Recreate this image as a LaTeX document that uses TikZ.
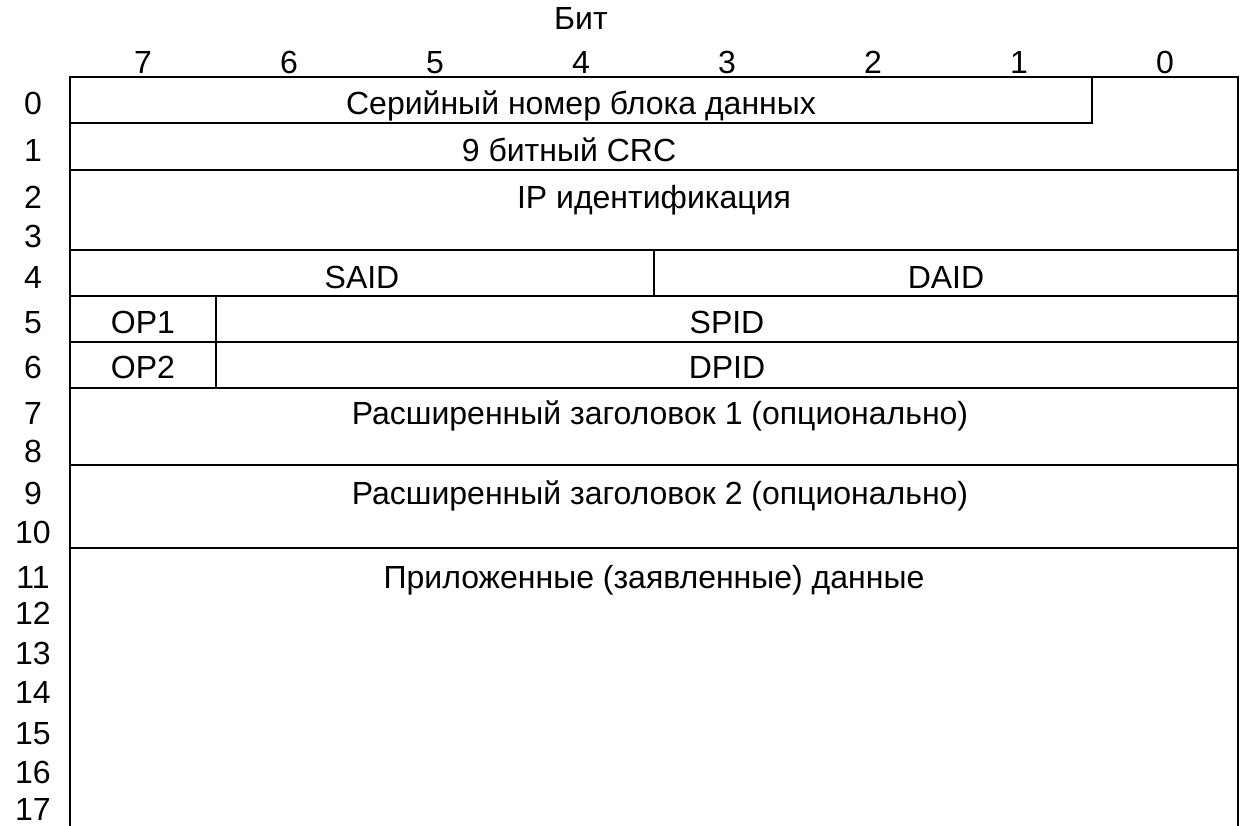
\documentclass[tikz,border=0pt]{standalone}
\usepackage{fontspec}
\setmainfont{Liberation Sans}
\usetikzlibrary{positioning}

\begin{document}
\begin{tikzpicture}[x=1pt, y=-1pt, font=\fontsize{32}{38}\selectfont]
  \tikzstyle{txt}=[inner sep=0pt, anchor=base]
  \tikzstyle{grid}=[line width=2.8pt]

  \useasboundingbox (0,0) rectangle (1240,825);

  % bit header
  \node[txt] (bit_title) at (581,29) {Бит};
  \node[txt] (bit_7) at (143,73) {7};
  \node[txt] (bit_6) at (289,73) {6};
  \node[txt] (bit_5) at (435,73) {5};
  \node[txt] (bit_4) at (581,73) {4};
  \node[txt] (bit_3) at (727,73) {3};
  \node[txt] (bit_2) at (873,73) {2};
  \node[txt] (bit_1) at (1019,73) {1};
  \node[txt] (bit_0) at (1165,73) {0};

  % byte numbers
  \node[txt] (row_0) at (33,114) {0};
  \node[txt] (row_1) at (33,161) {1};
  \node[txt] (row_2) at (33,208) {2};
  \node[txt] (row_3) at (33,247) {3};
  \node[txt] (row_4) at (33,288) {4};
  \node[txt] (row_5) at (33,333) {5};
  \node[txt] (row_6) at (33,378) {6};
  \node[txt] (row_7) at (33,424) {7};
  \node[txt] (row_8) at (33,462) {8};
  \node[txt] (row_9) at (33,504) {9};
  \node[txt] (row_10) at (33,543) {10};
  \node[txt] (row_11) at (33,588) {11};
  \node[txt] (row_12) at (33,624) {12};
  \node[txt] (row_13) at (33,664) {13};
  \node[txt] (row_14) at (33,703) {14};
  \node[txt] (row_15) at (33,744) {15};
  \node[txt] (row_16) at (33,783) {16};
  \node[txt] (row_17) at (33,820) {17};

  % fields
  \node[txt] (serial) at (581,114) {Серийный номер блока данных};
  \node[txt] (crc) at (569,161) {9 битный CRC};
  \node[txt] (ip_id) at (654,208) {IP идентификация};
  \node[txt] (said) at (362,288) {SAID};
  \node[txt] (daid) at (946,288) {DAID};
  \node[txt] (op1) at (143,333) {OP1};
  \node[txt] (spid) at (727,333) {SPID};
  \node[txt] (op2) at (143,378) {OP2};
  \node[txt] (dpid) at (727,378) {DPID};
  \node[txt] (ext1) at (660,424) {Расширенный заголовок 1 (опционально)};
  \node[txt] (ext2) at (660,504) {Расширенный заголовок 2 (опционально)};
  \node[txt] (payload) at (654,588) {Приложенные (заявленные) данные};

  % frame and dividers
  \draw[grid] (70,840) -- (70,77) -- (1238,77) -- (1238,840);
  \draw[grid] (70,123) -- (1092,123) -- (1092,77);
  \draw[grid] (70,170) -- (1238,170);
  \draw[grid] (70,250) -- (1238,250);
  \draw[grid] (654,250) -- (654,296);
  \draw[grid] (70,296) -- (1238,296);
  \draw[grid] (216,296) -- (216,388);
  \draw[grid] (70,342) -- (1238,342);
  \draw[grid] (70,388) -- (1238,388);
  \draw[grid] (70,465) -- (1238,465);
  \draw[grid] (70,548) -- (1238,548);

\end{tikzpicture}
\end{document}
